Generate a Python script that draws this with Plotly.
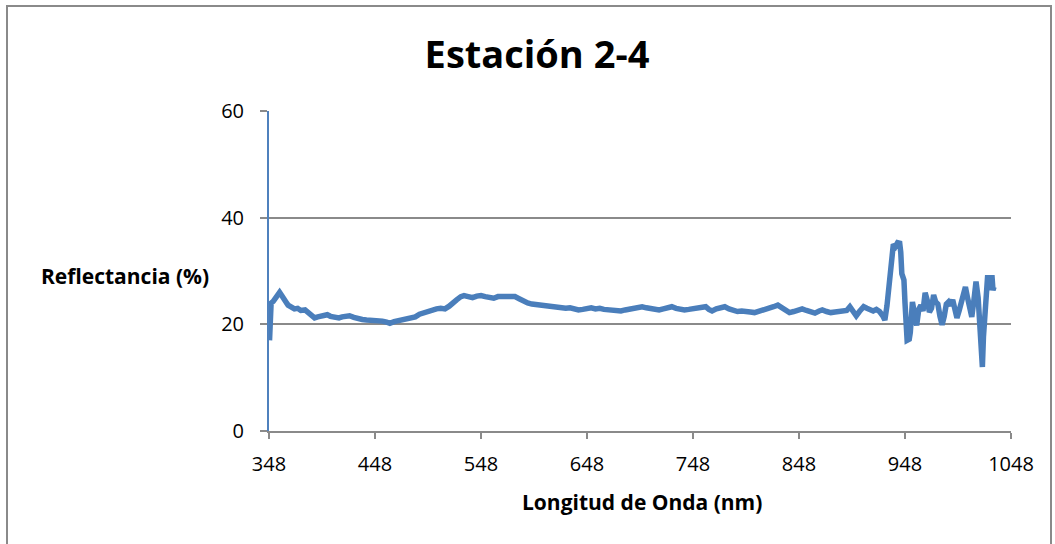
import plotly.graph_objects as go

# Wavelength (nm) and reflectance (%) readings for station 2-4
wavelength = [
    348.5, 349, 350, 352, 354, 356, 358, 360, 362, 364, 366, 369, 372, 375, 378,
    382, 385, 388, 391, 394, 397, 400, 403, 406, 410, 414, 417, 420, 424, 428,
    432, 436, 440, 445, 450, 455, 459, 462, 466, 470, 474, 478, 482, 486, 490,
    494, 498, 502, 506, 510, 514, 518, 521, 525, 529, 532, 536, 540, 544, 548,
    552, 556, 560, 564, 568, 572, 576, 580, 584, 588, 592, 596, 600, 604, 608,
    612, 616, 620, 624, 628, 632, 636, 640, 644, 648, 652, 656, 660, 664, 668,
    672, 676, 680, 684, 688, 692, 696, 700, 704, 708, 712, 716, 720, 724, 728,
    732, 736, 740, 744, 748, 752, 756, 760, 763, 766, 770, 774, 778, 782, 786,
    790, 794, 798, 802, 806, 810, 814, 817, 820, 824, 828, 831, 835, 839, 843,
    847, 851, 855, 859, 863, 867, 870, 874, 878, 882, 886, 890, 893, 896, 899,
    902, 905, 909, 912, 915, 918, 921, 924, 927, 929, 931, 933, 935, 937, 939,
    941, 943, 944, 945, 947, 948, 949, 950, 952, 953, 955, 957, 959, 961, 963,
    965, 967, 969, 971, 973, 975, 977, 979, 981, 983, 985, 987, 989, 991, 993,
    995, 997, 999, 1001, 1003, 1005, 1007, 1009, 1011, 1013, 1015, 1017, 1018, 1019, 1020,
    1021, 1022, 1024, 1025, 1026, 1028, 1030, 1031, 1032,
]
reflectance = [
    17.0, 22.5, 24.0, 24.3, 25.0, 25.6, 26.0, 25.4, 24.6, 24.2, 23.6, 23.2, 22.9, 23.0, 22.6,
    22.7, 22.3, 21.6, 21.2, 21.4, 21.5, 21.6, 21.8, 21.5, 21.3, 21.2, 21.4, 21.5, 21.6, 21.3,
    21.0, 20.9, 20.8, 20.8, 20.7, 20.6, 20.4, 20.2, 20.5, 20.7, 20.8, 20.9, 21.1, 21.4, 21.9,
    22.2, 22.4, 22.6, 22.9, 23.0, 22.9, 23.4, 24.0, 24.6, 25.2, 25.4, 25.2, 25.0, 25.3, 25.4,
    25.2, 25.0, 24.9, 25.2, 25.2, 25.1, 25.2, 25.2, 24.8, 24.3, 24.0, 23.8, 23.7, 23.6, 23.5,
    23.3, 23.2, 23.2, 23.1, 23.0, 23.1, 22.8, 22.7, 22.8, 23.0, 23.1, 22.9, 23.0, 22.8, 22.7,
    22.6, 22.6, 22.5, 22.7, 22.9, 23.0, 23.2, 23.3, 23.1, 22.9, 22.7, 22.7, 22.9, 23.2, 23.3,
    23.0, 22.8, 22.7, 22.8, 22.9, 23.0, 23.2, 23.3, 22.8, 22.5, 22.9, 23.1, 23.3, 22.9, 22.6,
    22.4, 22.5, 22.3, 22.3, 22.2, 22.4, 22.7, 22.8, 23.0, 23.3, 23.6, 23.2, 22.6, 22.2, 22.4,
    22.7, 22.9, 22.6, 22.3, 22.1, 22.5, 22.7, 22.4, 22.2, 22.3, 22.4, 22.3, 22.6, 23.3, 22.5,
    21.6, 22.4, 23.3, 23.0, 22.6, 22.5, 22.8, 22.4, 21.6, 20.8, 23.5, 27.0, 31.0, 35.0, 34.6,
    35.3, 35.2, 33.5, 29.5, 28.3, 24.0, 18.0, 17.0, 17.2, 18.5, 24.2, 22.0, 19.8, 22.8, 23.6,
    22.5, 25.9, 24.5, 22.3, 23.0, 25.5, 24.2, 23.8, 21.5, 19.9, 21.5, 23.8, 24.2, 23.5, 24.6,
    22.7, 21.2, 22.5, 24.0, 25.5, 27.0, 25.0, 23.3, 21.4, 24.5, 28.0, 25.0, 21.2, 17.5, 13.0,
    12.0, 17.6, 24.0, 28.9, 29.2, 26.4, 29.2, 26.4, 27.0,
]

x_ticks = [348, 448, 548, 648, 748, 848, 948, 1048]
y_ticks = [0, 20, 40, 60]

FONT = "Open Sans"
LINE_BLUE = "#4a7ebb"
GRID = "#8a8a8a"

fig = go.Figure()
fig.add_trace(go.Scatter(
    x=wavelength, y=reflectance, mode="lines",
    line=dict(color=LINE_BLUE, width=5.5),
    showlegend=False,
))

fig.update_layout(
    width=1055, height=544,
    margin=dict(l=269, r=44, t=111, b=113),
    paper_bgcolor="white", plot_bgcolor="white",
    font=dict(family=FONT, color="black"),
    title=dict(
        text="<b>Estación 2-4</b>",
        xref="container", x=537 / 1055, xanchor="center",
        yref="container", y=1 - 55 / 544, yanchor="middle",
        font=dict(family=FONT, size=38, color="black"),
    ),
    showlegend=False,
)

fig.update_xaxes(
    range=[348, 1048], tickvals=x_ticks, ticktext=[str(v) for v in x_ticks],
    showgrid=False, zeroline=False,
    showline=True, linecolor=GRID, linewidth=2,
    ticks="outside", ticklen=6, tickwidth=1.5, tickcolor=GRID,
    ticklabelstandoff=8,
    tickfont=dict(family=FONT, size=20, color="black"),
)
fig.update_yaxes(
    range=[0, 60], tickvals=y_ticks, ticktext=[str(v) for v in y_ticks],
    showgrid=True, gridcolor=GRID, gridwidth=1.5, zeroline=False,
    showline=True, linecolor="#4f81bd", linewidth=2,
    ticks="outside", ticklen=7, tickwidth=1.5, tickcolor=GRID,
    ticklabelstandoff=12,
    tickfont=dict(family=FONT, size=20, color="black"),
)

# Axis titles
fig.add_annotation(
    text="<b>Reflectancia (%)</b>", xref="paper", yref="paper",
    x=(125 - 269) / 742, y=(431 - 276) / 320,
    xanchor="center", yanchor="middle", showarrow=False,
    font=dict(family=FONT, size=21, color="black"),
)
fig.add_annotation(
    text="<b>Longitud de Onda (nm)</b>", xref="paper", yref="paper",
    x=(642 - 269) / 742, y=(431 - 502) / 320,
    xanchor="center", yanchor="middle", showarrow=False,
    font=dict(family=FONT, size=21, color="black"),
)

# Chart-area border
fig.add_shape(
    type="rect", xref="paper", yref="paper",
    x0=(7 - 269) / 742, x1=(1051 - 269) / 742,
    y0=(431 - 550) / 320, y1=(431 - 6) / 320,
    line=dict(color="#8a8a8a", width=2), fillcolor="rgba(0,0,0,0)",
    layer="below",
)

fig.write_html("out.html")
